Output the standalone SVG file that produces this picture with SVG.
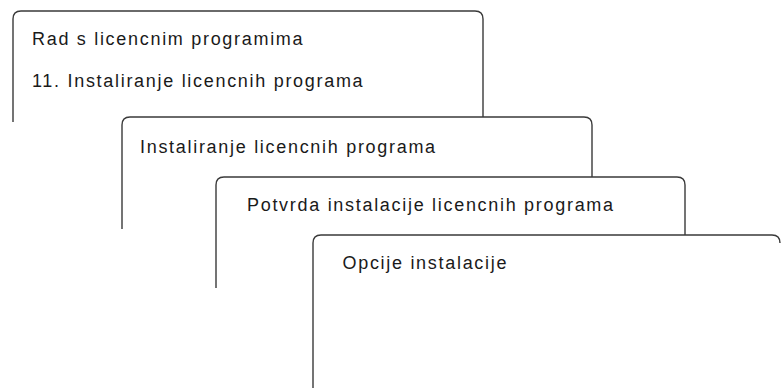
<svg xmlns="http://www.w3.org/2000/svg" width="781" height="388" viewBox="0 0 781 388">
<style>
.s{fill:none;stroke:#3a3a3a;stroke-width:1.4}
.t{font-family:"Liberation Sans",Arial,sans-serif;font-size:18px;fill:#1a1a1a;letter-spacing:1.7px}
</style>
<rect width="781" height="388" fill="#fff"/>
<g id="screen1">
<path class="s" d="M13,122 V19 Q13,11 21,11 H475 Q483,11 483,19 V117"/>
<text class="t" x="32" y="45">Rad s licencnim programima</text>
<text class="t" x="32" y="86.5">11. Instaliranje licencnih programa</text>
</g>
<g id="screen2">
<path class="s" d="M122,229 V125 Q122,117 130,117 H584 Q592,117 592,125 V177"/>
<text class="t" x="140" y="152.5">Instaliranje licencnih programa</text>
</g>
<g id="screen3">
<path class="s" d="M216,288 V185 Q216,177 224,177 H677 Q685,177 685,185 V235"/>
<text class="t" x="247" y="210.5">Potvrda instalacije licencnih programa</text>
</g>
<g id="screen4">
<path class="s" d="M313,388 V243 Q313,235 321,235 H772 Q780,235 780,243"/>
<text class="t" x="342.5" y="268.5">Opcije instalacije</text>
</g>
<g id="connectors"></g>
</svg>
